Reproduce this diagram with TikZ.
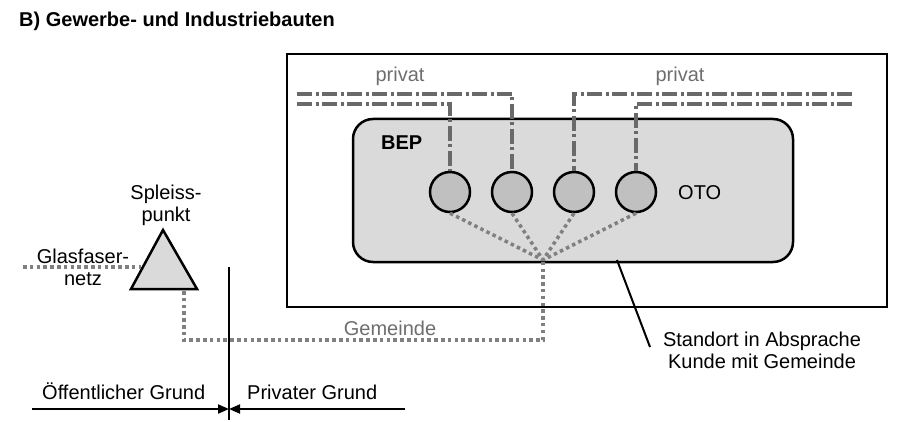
\documentclass[tikz,border=0pt]{standalone}
\usepackage{fontspec}
\setmainfont{Liberation Sans}
\usetikzlibrary{arrows.meta}
\definecolor{dashgray}{RGB}{105,105,105}
\definecolor{dotgray}{RGB}{128,128,128}
\definecolor{txtgray}{RGB}{110,110,110}
\definecolor{boxfill}{RGB}{218,218,218}
\definecolor{otofill}{RGB}{192,192,192}
\tikzset{
  lbl/.style={font=\fontsize{20}{22}\selectfont, inner sep=0pt, anchor=base},
  graylbl/.style={lbl, text=txtgray},
  privline/.style={draw=dashgray, line width=3.5pt, dash pattern=on 15pt off 3.5pt on 3pt off 3.5pt},
  dotline/.style={draw=dotgray, line width=3.5pt, dash pattern=on 3.5pt off 3.3pt},
  otobox/.style={circle, draw, line width=2.5pt, fill=otofill, minimum size=40pt, inner sep=0pt},
  blackline/.style={draw, line width=2pt},
}
\begin{document}
\begin{tikzpicture}[x=1pt,y=-1pt]
\useasboundingbox (0,0) rectangle (902,422);
% title
\node[lbl, anchor=base west, font=\bfseries\fontsize{20}{24}\selectfont] (title) at (19,27) {B) Gewerbe- und Industriebauten};
% outer site
\node[draw, line width=2.5pt, minimum width=600pt, minimum height=253pt, inner sep=0pt] (site) at (587,180.5) {};
% BEP
\node[draw, line width=2.5pt, rounded corners=20pt, fill=boxfill, minimum width=440pt, minimum height=143pt, inner sep=0pt] (bep) at (573,190.5) {};
\node[lbl, anchor=base west, font=\bfseries\fontsize{20}{22}\selectfont] (beplbl) at (381,150) {BEP};
% OTOs
\node[otobox] (c1) at (450,192) {};
\node[otobox] (c2) at (512,192) {};
\node[otobox] (c3) at (574,192) {};
\node[otobox] (c4) at (636,192) {};
\node[lbl, anchor=base west] (oto) at (678,200) {OTO};
% private lines
\coordinate (pl1) at (297,104);
\coordinate (pl2) at (297,94);
\coordinate (pr1) at (852,94);
\coordinate (pr2) at (852,104);
\draw[privline] (pl1) -| (c1.north);
\draw[privline] (pl2) -| (c2.north);
\draw[privline] (pr1) -| (c3.north);
\draw[privline] (pr2) -| (c4.north);
\node[graylbl] (priv1) at (400,82) {privat};
\node[graylbl] (priv2) at (680,82) {privat};
% fan
\coordinate (fan) at (543,260);
\foreach \c in {c1,c2,c3,c4} { \draw[dotline] (\c.south) -- (fan); }
% splice point
\coordinate (tapex) at (163,230);
\coordinate (tl) at (131,289);
\coordinate (tr) at (197,289);
\draw[line width=2.5pt, fill=boxfill, line join=miter] (tapex) -- (tl) -- (tr) -- cycle;
\node[lbl, align=center] (spl) at (166,222) {Spleiss-\\punkt};
% glasfaser
\coordinate (gf0) at (23,267);
\coordinate (gf1) at (141,267);
\draw[dotline] (gf0) -- (gf1);
\node[lbl, align=center] (gfl) at (83,285) {Glasfaser-\\netz};
% Gemeinde
\coordinate (gb) at (184,291);
\coordinate (gc) at (543,340);
\draw[dotline] (gb) |- (gc) -- (fan);
\node[graylbl] (gem) at (390,335) {Gemeinde};
% boundary
\coordinate (vtop) at (229,267);
\coordinate (vbot) at (229,420);
\coordinate (hmid) at (229,409);
\coordinate (hl) at (32,409);
\coordinate (hr) at (405,409);
\draw[blackline] (vtop) -- (vbot);
\draw[blackline, -{Triangle[length=11pt,width=9pt]}] (hl) -- (hmid);
\draw[blackline, -{Triangle[length=11pt,width=9pt]}] (hr) -- (hmid);
\node[lbl, anchor=base west] (oef) at (42,399) {Öffentlicher Grund};
\node[lbl, anchor=base west] (priv) at (247,399) {Privater Grund};
% pointer
\coordinate (ptr0) at (617,260);
\coordinate (ptr1) at (650,347);
\draw[blackline] (ptr0) -- (ptr1);
\node[lbl, align=center] (std) at (762,368) {Standort in Absprache\\Kunde mit Gemeinde};
\end{tikzpicture}
\end{document}
